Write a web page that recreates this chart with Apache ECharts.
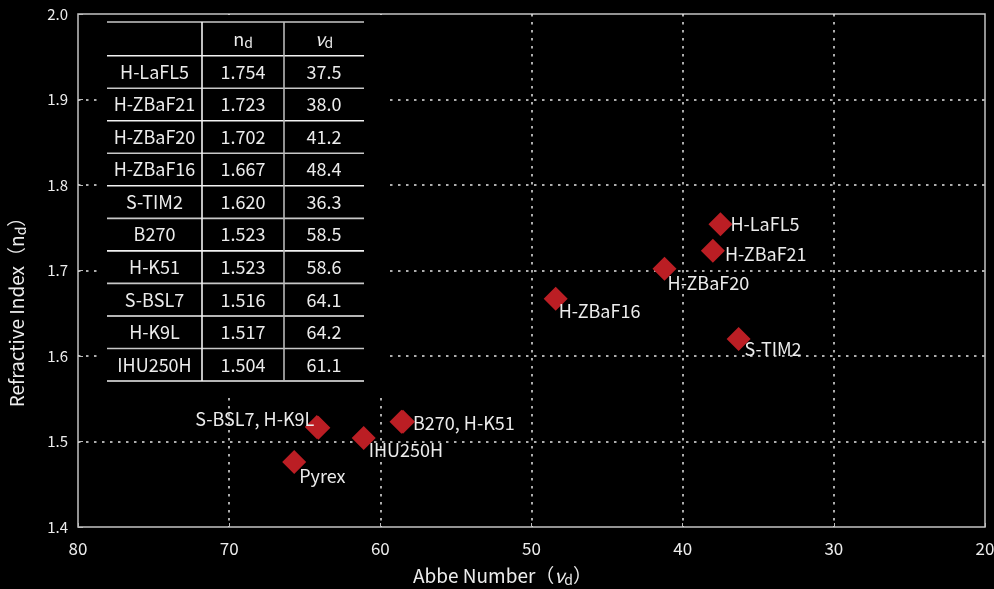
<!DOCTYPE html>
<html><head><meta charset="utf-8">
<script src="https://cdn.jsdelivr.net/npm/echarts@6/dist/echarts.min.js"></script>
<style>html,body{margin:0;padding:0;background:#000;}#c{width:994px;height:589px;}</style>
</head><body><div id="c"></div>
<script>
// ---- data ----
const glassNames = ['H-LaFL5','H-ZBaF21','H-ZBaF20','H-ZBaF16','S-TIM2','B270','H-K51','S-BSL7','H-K9L','IHU250H'];
const glassNd = [1.754,1.723,1.702,1.667,1.620,1.523,1.523,1.516,1.517,1.504];
const glassVd = [37.5,38.0,41.2,48.4,36.3,58.5,58.6,64.1,64.2,61.1];
const extraNames = ['Pyrex'];
const extraNd = [1.476];
const extraVd = [65.7];
const pointLabels = ['H-LaFL5','H-ZBaF21','H-ZBaF20','H-ZBaF16','S-TIM2','B270, H-K51','','S-BSL7, H-K9L','','IHU250H','Pyrex'];
const xTicks = [20,30,40,50,60,70,80];
const yTicks = ['1.4','1.5','1.6','1.7','1.8','1.9','2.0'];

// ---- styles ----
const FONT = '"Noto Sans CJK JP","Noto Sans",sans-serif';
const TXT = '#ececec';
const labelStyle = {
  'H-LaFL5': {align:'left', offset:[10,0]},
  'H-ZBaF21': {align:'left', offset:[12,3]},
  'H-ZBaF20': {align:'left', offset:[3,14]},
  'H-ZBaF16': {align:'left', offset:[3,12]},
  'S-TIM2': {align:'left', offset:[6,10]},
  'B270, H-K51': {align:'left', offset:[10,1]},
  'S-BSL7, H-K9L': {align:'right', offset:[-4,-9]},
  'IHU250H': {align:'left', offset:[5,12]},
  'Pyrex': {align:'left', offset:[5,14]}
};

const allNames = glassNames.concat(extraNames);
const allNd = glassNd.concat(extraNd);
const allVd = glassVd.concat(extraVd);
const seriesData = allNames.map((n,i)=>{
  const lab = pointLabels[i];
  const st = labelStyle[lab] || {align:'left', offset:[0,0]};
  return {
    name: n,
    value: [allVd[i], allNd[i]],
    label: {show: !!lab, formatter: lab, position:'inside', align: st.align, verticalAlign:'middle',
      offset: st.offset, color: TXT, fontSize: 18, fontFamily: FONT}
  };
});

// ---- table ----
const tX = [107, 202, 284, 364];
const tTop = 22, tHead = 55.7, rowH = 32.53;
const g = [];
g.push({type:'rect', shape:{x:100,y:15,width:290,height:380}, style:{fill:'#000'}, z:100});
const nRows = glassNames.length;
const lineYs = [tTop, tHead];
for (let i=1;i<=nRows;i++) lineYs.push(tHead + rowH*i);
lineYs.forEach((y,i)=>{
  g.push({type:'line', shape:{x1:tX[0],y1:y,x2:tX[3],y2:y}, style:{stroke: i%2===0 ? '#c8c8c8' : '#f2f2f2', lineWidth:1.6}, z:101});
});
g.push({type:'line', shape:{x1:tX[1],y1:tTop,x2:tX[1],y2:lineYs[lineYs.length-1]}, style:{stroke:'#f2f2f2', lineWidth:1.6}, z:101});
g.push({type:'line', shape:{x1:tX[2],y1:tTop,x2:tX[2],y2:lineYs[lineYs.length-1]}, style:{stroke:'#b8b8b8', lineWidth:1.6}, z:101});
const cx = [(tX[0]+tX[1])/2, (tX[1]+tX[2])/2, (tX[2]+tX[3])/2];
const rich = {
  b:{fontSize:18, fontFamily:FONT, fill:TXT, color:TXT},
  it:{fontSize:18, fontFamily:FONT, fontStyle:'italic', fill:TXT, color:TXT},
  sub:{fontSize:14, fontFamily:FONT, fill:TXT, color:TXT, padding:[8,0,0,0]}
};
g.push({type:'text', x:cx[1], y:(tTop+tHead)/2, z:102, style:{text:'{b|n}{sub|d}', rich:rich, align:'center', verticalAlign:'middle'}});
g.push({type:'text', x:cx[2], y:(tTop+tHead)/2, z:102, style:{text:'{it|ν}{sub|d}', rich:rich, align:'center', verticalAlign:'middle'}});
for (let i=0;i<nRows;i++){
  const y = tHead + rowH*(i+0.5);
  const cells = [glassNames[i], glassNd[i].toFixed(3), glassVd[i].toFixed(1)];
  cells.forEach((t,j)=>{
    g.push({type:'text', x:cx[j], y:y, z:102, style:{text:t, fill:TXT, font:'18px '+FONT, align:'center', verticalAlign:'middle'}});
  });
}

const gridLine = {show:true, showMinLine:false, showMaxLine:false, lineStyle:{color:'#e6e6e6', type:[2.5,5.5], width:1.5}};
const chart = echarts.init(document.getElementById('c'));
chart.setOption({
  backgroundColor:'#000',
  animation:false,
  grid:{left:78, right:9, top:14, bottom:62, show:true, borderColor:'#c4c4c4', borderWidth:1.5, outerBoundsMode:'none', containLabel:false},
  xAxis:{
    type:'value', inverse:true, min:20, max:80, interval:10,
    name:'Abbe Number（{it|ν}{sub|d}）', nameLocation:'middle', nameGap:38,
    nameTextStyle:{color:TXT, fontSize:19, fontFamily:FONT, padding:[0,58,0,0],
      rich:{it:{fontSize:19, fontStyle:'italic', color:TXT, fontFamily:FONT}, sub:{fontSize:14, color:TXT, fontFamily:FONT, padding:[8,0,0,0]}}},
    axisLine:{show:false}, axisTick:{show:true, inside:true, length:4, lineStyle:{color:'#bdbdbd'}},
    axisLabel:{color:TXT, fontSize:17, fontFamily:FONT, margin:13, formatter:v=> xTicks.includes(v) ? String(v) : ''},
    splitLine: gridLine
  },
  yAxis:{
    type:'value', min:1.4, max:2.0, interval:0.1,
    name:'Refractive Index（n{sub|d}）', nameLocation:'middle', nameGap:50, nameRotate:90,
    nameTextStyle:{color:TXT, fontSize:19, fontFamily:FONT, padding:[0,74,0,0],
      rich:{sub:{fontSize:14, color:TXT, fontFamily:FONT, padding:[8,0,0,0]}}},
    axisLine:{show:false}, axisTick:{show:true, inside:true, length:5, lineStyle:{color:'#bdbdbd'}},
    axisLabel:{color:TXT, fontSize:15, fontFamily:FONT, margin:10, formatter:v=>{const s=v.toFixed(1); return yTicks.includes(s)?s:'';}},
    splitLine: gridLine
  },
  graphic: g,
  series:[{
    type:'scatter', symbol:'diamond', symbolSize:24,
    itemStyle:{color:'#bb1e24', opacity:1},
    label:{color:TXT, fontSize:18, fontFamily:FONT},
    emphasis:{disabled:true},
    data: seriesData, z:5
  }]
});
</script></body></html>
